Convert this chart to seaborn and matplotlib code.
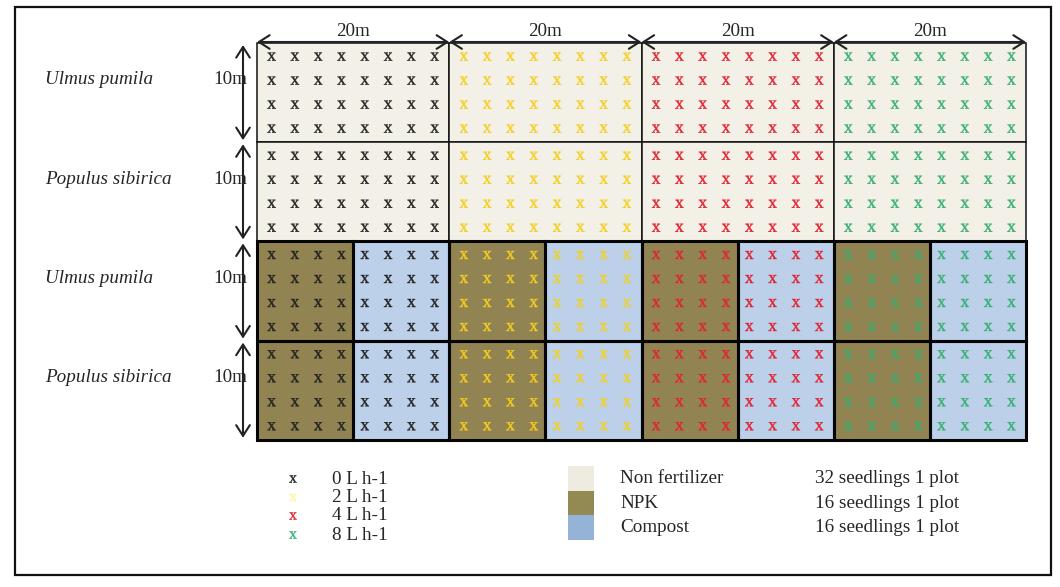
import numpy as np
import pandas as pd
import matplotlib
matplotlib.use("Agg")
import matplotlib.pyplot as plt
from matplotlib.patches import Rectangle, FancyArrowPatch
import seaborn as sns

# ---------------- data ----------------
species = ["Ulmus pumila", "Populus sibirica", "Ulmus pumila", "Populus sibirica"]
block_fertilized = [False, False, True, True]
rates = ["0 L h-1", "2 L h-1", "4 L h-1", "8 L h-1"]
rate_colors = ["#222222", "#F5CF1C", "#E32230", "#35B071"]
rate_legend_colors = ["#222222", "#FFF59A", "#E32230", "#35B071"]
treatments = ["Non fertilizer", "NPK", "Compost"]
treatment_plot_colors = ["#F3F0E7", "#928452", "#BCD0EA"]
treatment_legend_colors = ["#EEECE1", "#938953", "#95B3D7"]
seedlings_per_plot = [32, 16, 16]
plot_width_label = "20m"
block_height_label = "10m"
cols_per_plot = 8
rows_per_block = 4

# ---------------- style ----------------
sns.set_style("white")
plt.rcParams["font.family"] = ["Liberation Serif", "DejaVu Serif"]
plt.rcParams["mathtext.default"] = "regular"
FS = 13.8

W, H = 1060, 587
fig = plt.figure(figsize=(W / 100, H / 100), dpi=100)
ax = fig.add_axes([0, 0, 1, 1])

# outer frame
ax.add_patch(Rectangle((15, 7), 1036, 568, fill=False, ec="#111111", lw=1.6, zorder=1))

# grid geometry
gx0, gx1 = 257, 1026
gy0 = 43
block_h = 99.2
plot_w = (gx1 - gx0) / len(rates)
col_sp = 23.3

# seedlings table
recs = []
for b in range(len(species)):
    yc = gy0 + block_h * (b + 0.5)
    for p, rate in enumerate(rates):
        xc = gx0 + plot_w * (p + 0.5)
        for i in range(cols_per_plot):
            for j in range(rows_per_block):
                recs.append({"x": xc + (i - (cols_per_plot - 1) / 2) * col_sp,
                             "y": yc + (j - (rows_per_block - 1) / 2) * 24.0,
                             "rate": rate})
df = pd.DataFrame(recs)

# plot backgrounds
for b in range(len(species)):
    y = gy0 + block_h * b
    for p in range(len(rates)):
        x = gx0 + plot_w * p
        if not block_fertilized[b]:
            ax.add_patch(Rectangle((x, y), plot_w, block_h, fc=treatment_plot_colors[0],
                                   ec="#111111", lw=1.1, zorder=2))
        else:
            ax.add_patch(Rectangle((x, y), plot_w / 2, block_h, fc=treatment_plot_colors[1],
                                   ec="none", zorder=2))
            ax.add_patch(Rectangle((x + plot_w / 2, y), plot_w / 2, block_h,
                                   fc=treatment_plot_colors[2], ec="none", zorder=2))
            ax.add_patch(Rectangle((x, y), plot_w / 2, block_h, fill=False,
                                   ec="#050505", lw=2.2, zorder=4))
            ax.add_patch(Rectangle((x + plot_w / 2, y), plot_w / 2, block_h, fill=False,
                                   ec="#050505", lw=2.2, zorder=4))

# seedlings
sns.scatterplot(data=df, x="x", y="y", hue="rate", palette=dict(zip(rates, rate_colors)),
                marker="$\\mathregular{x}$", s=36, linewidth=0.3, edgecolor="face",
                legend=False, ax=ax, zorder=3)

# dimension arrows
arrow_kw = dict(arrowstyle="<->,head_length=0.55,head_width=0.35", mutation_scale=14,
                color="#222222", lw=1.5, shrinkA=0, shrinkB=0, zorder=5)
for p in range(len(rates)):
    x0 = gx0 + plot_w * p
    ax.add_patch(FancyArrowPatch((x0, gy0 - 1), (x0 + plot_w, gy0 - 1), **arrow_kw))
    ax.text(x0 + plot_w / 2, 31, plot_width_label, ha="center", va="center", fontsize=FS)
for b in range(len(species)):
    y0 = gy0 + block_h * b
    ax.add_patch(FancyArrowPatch((243, y0 + 2), (243, y0 + block_h - 2), **arrow_kw))
    ax.text(247, y0 + 37, block_height_label, ha="right", va="center", fontsize=FS)
    ax.text(45, y0 + 37, species[b], ha="left", va="center", fontsize=FS, style="italic")

# legend: irrigation rates
leg_y = [479, 497.5, 516, 535]
leg_df = pd.DataFrame({"x": [293] * len(rates), "y": leg_y, "rate": rates})
sns.scatterplot(data=leg_df, x="x", y="y", hue="rate",
                palette=dict(zip(rates, rate_legend_colors)),
                marker="$\\mathregular{x}$", s=28, linewidth=0.3, edgecolor="face",
                legend=False, ax=ax, zorder=3)
for r, y in zip(rates, leg_y):
    ax.text(332, y, r, ha="left", va="center", fontsize=FS)

# legend: treatments
sw_y = [466, 490.5, 515]
for t, c, n, y in zip(treatments, treatment_legend_colors, seedlings_per_plot, sw_y):
    ax.add_patch(Rectangle((568, y), 26, 25, fc=c, ec="none", zorder=2))
    ax.text(620, y + 12.5, t, ha="left", va="center", fontsize=FS)
    ax.text(815, y + 12.5, f"{n} seedlings 1 plot", ha="left", va="center", fontsize=FS)

ax.set_xlim(0, W)
ax.set_ylim(H, 0)
ax.axis("off")
fig.savefig("out.png", dpi=100)
